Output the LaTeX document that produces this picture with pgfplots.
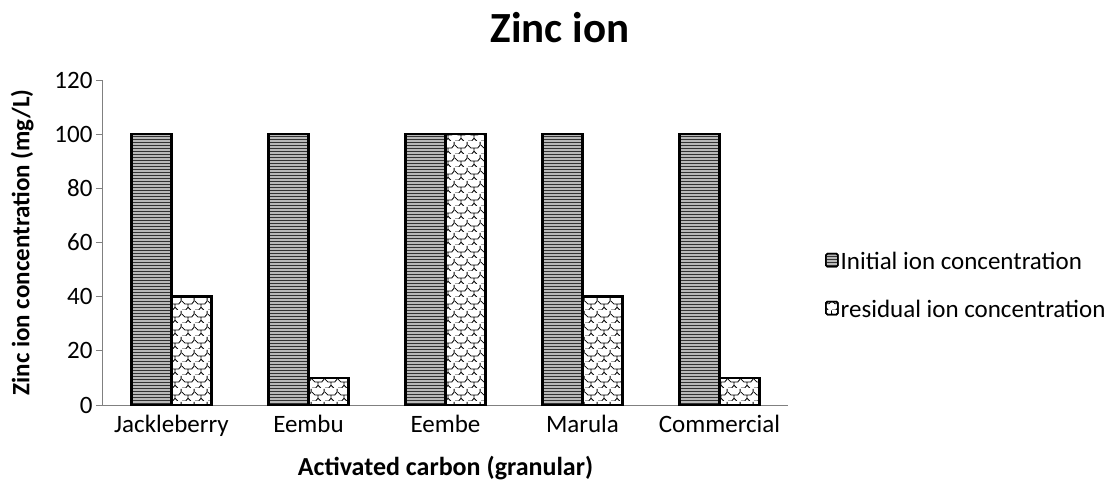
\documentclass[border=0pt]{standalone}
\usepackage{pgfplots}
\pgfplotsset{compat=1.18}
\usepackage{fontspec}
\setmainfont{Carlito}
\usetikzlibrary{patterns}
\pgfdeclarepatternformonly{shingle}{\pgfpointorigin}{\pgfpoint{13pt}{13pt}}{\pgfpoint{13pt}{13pt}}{%
  \pgfsetlinewidth{0.9pt}%
  \pgfpathmoveto{\pgfpoint{0pt}{0pt}}%
  \pgfpathlineto{\pgfpoint{4pt}{0pt}}%
  \pgfpathlineto{\pgfpoint{6.5pt}{3pt}}%
  \pgfpathlineto{\pgfpoint{6.5pt}{6.5pt}}%
  \pgfpathlineto{\pgfpoint{10.5pt}{6.5pt}}%
  \pgfpathlineto{\pgfpoint{13pt}{9.5pt}}%
  \pgfpathlineto{\pgfpoint{13pt}{13pt}}%
  \pgfpathmoveto{\pgfpoint{6.5pt}{3pt}}%
  \pgfpathlineto{\pgfpoint{9.5pt}{0pt}}%
  \pgfpathmoveto{\pgfpoint{0pt}{9.5pt}}%
  \pgfpathlineto{\pgfpoint{3pt}{6.5pt}}%
  \pgfpathlineto{\pgfpoint{6.5pt}{6.5pt}}%
  \pgfusepath{stroke}%
}
\pgfplotstableread{
x init resid
0 100 40
1 100 10
2 100 100
3 100 40
4 100 10
}\zinc
\begin{document}
\begin{tikzpicture}[x=1pt,y=1pt]
\path (0,0) rectangle (1114,491);
\node[font=\bfseries\fontsize{43}{45}\selectfont] at (560,463) {Zinc ion};
\begin{axis}[
  at={(103pt,86pt)}, anchor=south west,
  scale only axis, width=685pt, height=325pt,
  ymin=0, ymax=120, ytick={0,20,...,120},
  xmin=-0.5, xmax=4.5,
  xtick={0,1,2,3,4},
  xticklabels={Jackleberry,Eembu,Eembe,Marula,Commercial},
  extra x ticks={-0.5,0.5,1.5,2.5,3.5,4.5},
  extra x tick labels={},
  extra x tick style={major tick length=7pt, tick style={gray, line width=1pt}, tick align=outside},
  x tick style={draw=none},
  y tick style={gray, line width=1pt},
  major tick length=7pt,
  tick align=outside,
  tick pos=left,
  axis x line*=bottom, axis y line*=left,
  axis line style={gray, line width=1pt, -},
  ticklabel style={font=\fontsize{25}{27}\selectfont},
  /pgf/number format/assume math mode=true,
  xlabel={\bfseries Activated carbon (granular)},
  ylabel={\bfseries Zinc ion concentration (mg/L)},
  label style={font=\bfseries\fontsize{25}{27}\selectfont},
  xlabel style={at={(axis description cs:0.5,-0.194)}, anchor=center, font=\bfseries\fontsize{26}{28}\selectfont},
  ylabel style={at={(axis description cs:-0.118,0.5)}, anchor=center},
  ybar=0pt, bar width=40pt,
  legend style={at={(axis description cs:1.0496,0.483)}, anchor=north west, draw=none, fill=none,
    font=\fontsize{25}{27}\selectfont, row sep=25pt,
    /tikz/every even column/.append style={column sep=2pt}},
  legend cell align=left,
  legend image code/.code={\draw[#1, line width=1.5pt, rounded corners=1.5pt] (0pt,-5pt) rectangle (12pt,8pt);},
]
\addplot[draw=black, line width=2.5pt, fill=gray!55, postaction={pattern=horizontal lines, pattern color=black!80}] table[x=x,y=init] {\zinc};
\addlegendentry{Initial ion concentration}
\addplot[draw=black, line width=2.5pt, fill=white, postaction={pattern=shingle}] table[x=x,y=resid] {\zinc};
\addlegendentry{residual ion concentration}
\end{axis}
\end{tikzpicture}
\end{document}
